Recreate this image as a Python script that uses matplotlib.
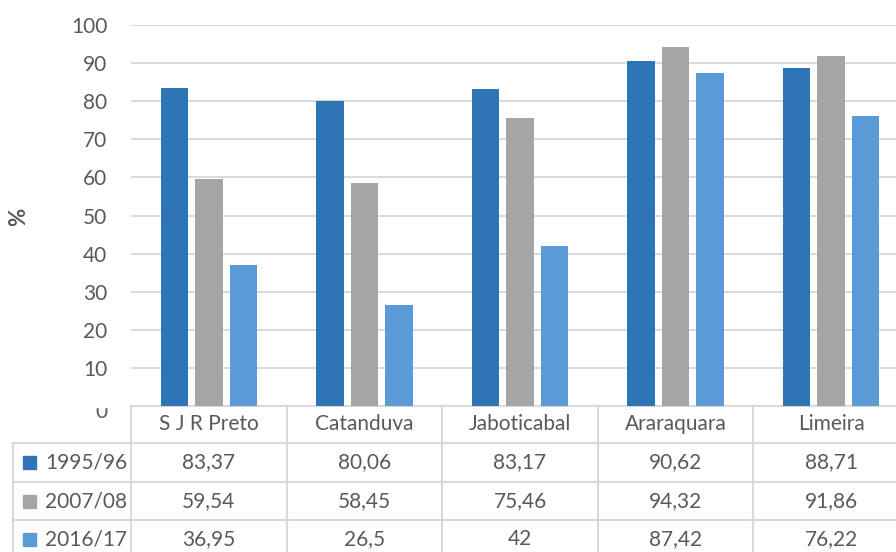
import numpy as np
import matplotlib
matplotlib.use("Agg")
import matplotlib.pyplot as plt
from matplotlib.lines import Line2D
from matplotlib.patches import Rectangle
import matplotlib.transforms as mtransforms

cities = ["S J R Preto", "Catanduva", "Jaboticabal", "Araraquara", "Limeira"]
series_names = ["1995/96", "2007/08", "2016/17"]
v1995 = [83.37, 80.06, 83.17, 90.62, 88.71]
v2007 = [59.54, 58.45, 75.46, 94.32, 91.86]
v2016 = [36.95, 26.5, 42, 87.42, 76.22]
yticks = [0, 10, 20, 30, 40, 50, 60, 70, 80, 90, 100]

colors = ["#2E75B6", "#A5A5A5", "#5B9BD5"]
txt = "#595959"
line_c = "#D9D9D9"
W, H = 896, 552
fs = 15

plt.rcParams['font.family'] = ['Lato', 'DejaVu Sans']

fig = plt.figure(figsize=(W / 100, H / 100), dpi=100)

# plot area in pixel terms (table sits right under it)
left, right, top, base = 131, 909, 25, 406
ax = fig.add_axes([left / W, (H - base) / H, (right - left) / W, (base - top) / H])

x = np.arange(len(cities))
offs = [-0.2216, 0, 0.2216]
bw = 0.177
for vals, off, c in zip([v1995, v2007, v2016], offs, colors):
    ax.bar(x + off, vals, bw, color=c, zorder=3)

ax.set_xlim(-0.5, len(cities) - 0.5)
ax.set_ylim(0, 100)
ax.set_yticks(yticks[1:])
ax.set_yticklabels([str(t) for t in yticks[1:]], color=txt, fontsize=fs)
ax.tick_params(axis='y', length=0, pad=17)
ax.set_xticks([])
for s in ax.spines.values():
    s.set_visible(False)
ax.yaxis.grid(True, color=line_c, lw=1.4, zorder=0)
ax.set_axisbelow(True)
ax.patch.set_alpha(0)

# overlay axes in pixel units for the data table
tax = fig.add_axes([0, 0, 1, 1], zorder=-1)
tax.set_xlim(0, W)
tax.set_ylim(H, 0)
tax.axis('off')

# zero label, half hidden behind the table edge
tax.text(107, 412, str(yticks[0]), ha='right', va='center', color=txt, fontsize=fs)
tax.add_patch(Rectangle((90, 390), 30, 17, color='white', zorder=5))

rows_y = [406, 443, 482, 520, 558]
label_x0 = 13
kw = dict(color=line_c, lw=1.5, zorder=2)
tax.add_line(Line2D([left, right], [rows_y[0]] * 2, **kw))
for yy in rows_y[1:4]:
    tax.add_line(Line2D([label_x0, right], [yy] * 2, **kw))
tax.add_line(Line2D([label_x0, label_x0], [rows_y[1], H + 5], **kw))

mix = mtransforms.blended_transform_factory(ax.transData, tax.transData)
for i in range(len(cities) + 1):
    tax.add_line(Line2D([i - 0.5, i - 0.5], [rows_y[0], H + 5], transform=mix, **kw))

for i, name in enumerate(cities):
    tax.text(i, (rows_y[0] + rows_y[1]) / 2, name, transform=mix,
             ha='center', va='center', color=txt, fontsize=fs)

for r, (name, vals, c) in enumerate(zip(series_names, [v1995, v2007, v2016], colors)):
    yc = (rows_y[r + 1] + rows_y[r + 2]) / 2
    tax.add_patch(Rectangle((23, yc - 6.5), 13, 13, color=c))
    tax.text(45, yc, name, ha='left', va='center', color=txt, fontsize=fs)
    for i, v in enumerate(vals):
        tax.text(i, yc, f"{v:g}".replace('.', ','), transform=mix,
                 ha='center', va='center', color=txt, fontsize=fs)

fig.text(19 / W, 1 - 217 / H, "%", rotation=90, ha='center', va='center',
         color=txt, fontsize=16, fontweight='bold')

fig.savefig("out.png", dpi=100, facecolor='white')
